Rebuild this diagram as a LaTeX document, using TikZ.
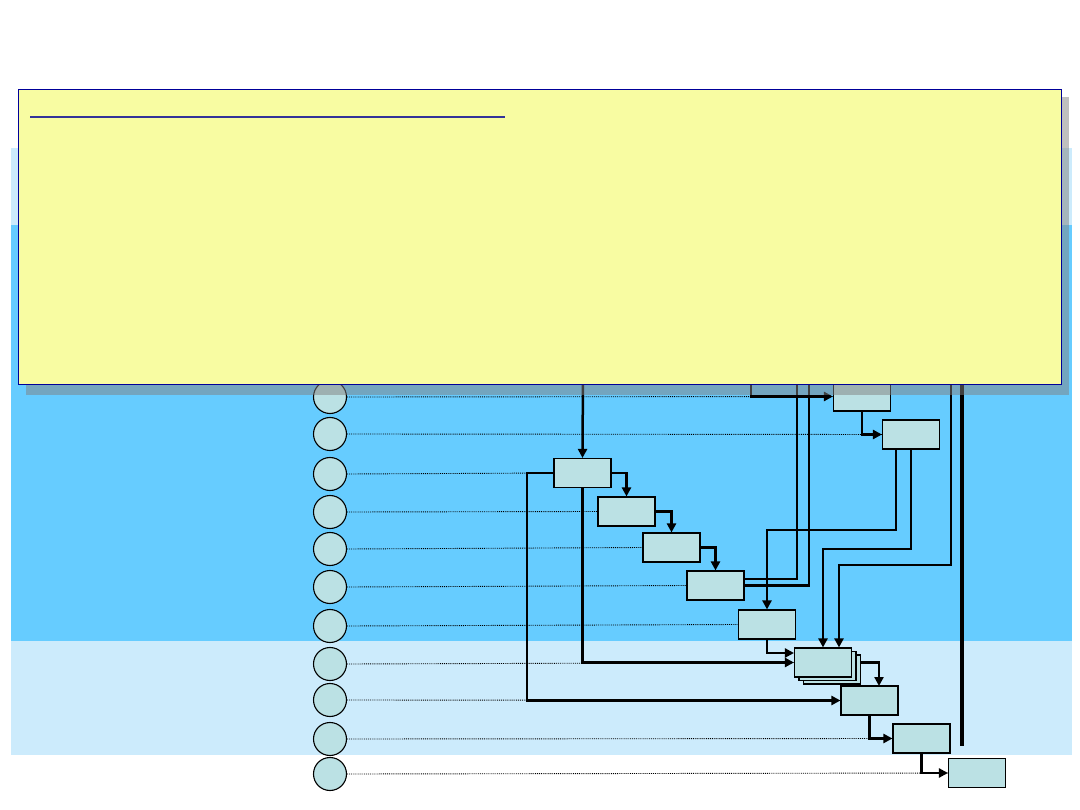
\documentclass[tikz,border=0pt]{standalone}
\usepackage{tikz}
\usetikzlibrary{positioning,arrows.meta,calc}

\definecolor{bandmid}{HTML}{66CCFF}
\definecolor{bandlight}{HTML}{CCEBFC}
\definecolor{stepfill}{HTML}{BBE1E4}
\definecolor{notefill}{HTML}{F8FCA2}
\definecolor{noteline}{HTML}{000099}
\definecolor{noterule}{HTML}{333399}

\begin{document}
\begin{tikzpicture}[
  x=1pt, y=-1pt,
  >={Triangle[length=9pt,width=9pt]},
  dot/.style={circle,draw,line width=1.1pt,fill=stepfill,minimum size=33pt,inner sep=0pt},
  stepbox/.style={rectangle,draw,line width=1.1pt,fill=stepfill,minimum width=57pt,minimum height=29pt,inner sep=0pt},
  guide/.style={densely dotted,line width=0.9pt},
  flow/.style={->,line width=2.5pt},
  bar/.style={line width=4pt},
]
\useasboundingbox (0,0) rectangle (1080,810);

% ===== background bands =====
\fill[bandlight] (11,148) rectangle (1072,225);
\fill[bandmid] (11,225) rectangle (1072,641);
\fill[bandlight] (11,641) rectangle (1072,755);

% ===== circles (one per row) =====
\foreach \y [count=\i] in {397,434,474,512,549,587,626,664,700,739,774}
  \node[dot] (c\i) at (330,\y) {};

% ===== steps =====
\node[stepbox] (b1) at (862,396.5) {};
\node[stepbox] (b2) at (911,434.5) {};
\node[stepbox] (b3) at (582.5,473) {};
\node[stepbox] (b4) at (626.5,511.5) {};
\node[stepbox] (b5) at (671.5,547.5) {};
\node[stepbox] (b6) at (715.5,585.5) {};
\node[stepbox] (b7) at (767,624.5) {};
\node[stepbox] (b8c) at (832,669.5) {};
\node[stepbox] (b8b) at (827.5,666) {};
\node[stepbox] (b8) at (823,662.5) {};
\node[stepbox] (b9) at (869.5,700.5) {};
\node[stepbox] (b10) at (921.5,738.5) {};
\node[stepbox] (b11) at (977,773) {};

% ===== row guides =====
\foreach \i in {1,...,11}
  \draw[guide] (c\i.east) -- (b\i.west);

% ===== inputs from above =====
\coordinate (in3) at (583,370);
\coordinate (in1) at (751,370);
\coordinate (in8) at (951,370);
\coordinate (out1) at (797,370);
\coordinate (out2) at (809,370);
\draw[flow] (in3) -- (b3.north);
\draw[flow] (in1) |- (b1.west);
\draw[bar] (962,370) -- (962,746);

% ===== chain =====
\draw[flow] (b3.east) -| (b4.north);
\draw[flow] (b4.east) -| (b5.north);
\draw[flow] (b5.east) -| (b6.north);
\draw[line width=2.5pt] ($(b6.east)+(0,-6.5)$) -| (out1);
\draw[line width=2.5pt] (b6.east) -| (out2);
\draw[flow] (b1.south) |- (b2.west);
\draw[flow] ($(b2.south)+(-15,0)$) -- (896,530) -| (b7.north);
\draw[flow] (b2.south) -- (911,549) -| (b8.north);
\draw[flow] (in8) -- (951,565) -| ($(b8.north)+(16,0)$);
\draw[flow] (b7.south) |- ($(b8.west)+(0,-9.5)$);
\draw[flow] (b3.south) |- (b8.west);
\draw[flow] (b3.west) -- (527,473) |- (b9.west);
\draw[flow] (b8c.east |- b8.east) -- (879,662.5) -- (879,686);
\draw[flow] (b9.south) |- (b10.west);
\draw[flow] (b10.south) |- (b11.west);

% ===== note with shadow =====
\fill[gray,opacity=0.5] (26,97) rectangle (1069,395);
\node[draw=noteline,line width=1pt,fill=notefill,inner sep=0pt,
      minimum width=1043pt,minimum height=295pt,anchor=north west] (note) at (18,89) {};
\draw[noterule,line width=1.6pt] ($(note.north west)+(12,28)$) -- ($(note.north west)+(487,28)$);
\end{tikzpicture}
\end{document}
